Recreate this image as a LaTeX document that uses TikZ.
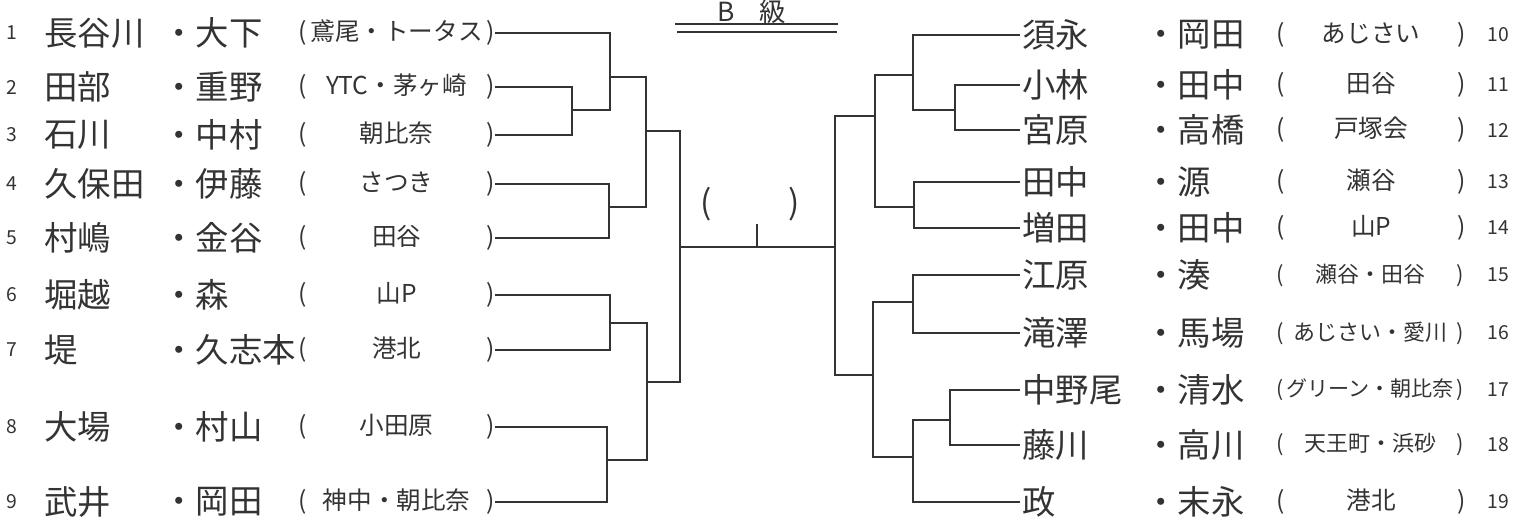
\documentclass[tikz,border=0pt]{standalone}
\usepackage{fontspec}
\setmainfont{Noto Sans CJK JP}

\begin{document}
\begin{tikzpicture}[x=0.02cm,y=-0.02cm,thick,color=black!80,
		nm/.style={anchor=west,inner sep=1pt,font=\fontsize{19}{22}\selectfont},
		af/.style={anchor=west,inner sep=0pt,font=\fontsize{14}{17}\selectfont},
		no/.style={inner sep=0pt,font=\fontsize{11}{13}\selectfont}]
				\useasboundingbox (0,0) rectangle (1526,528);
				
				% title
				\node[anchor=base,inner sep=0pt,font=\fontsize{15}{18}\selectfont] (ttl) at (752,21) {B\hspace{14pt}級};
				\draw (675,24) -- (838,24);
				\draw (677,32) -- (837,32);
				
				% left entries
				\node[no] (n1) at (12,33) {1};
				\node[nm] (a1) at (42,33) {長谷川};
				\node[nm] (b1) at (160,33) {・大下};
				\node[af] (c1) at (298,33) {(\makebox[102pt]{鳶尾・トータス})};
				\node[no] (n2) at (12,87) {2};
				\node[nm] (a2) at (42,87) {田部};
				\node[nm] (b2) at (160,87) {・重野};
				\node[af] (c2) at (298,87) {(\makebox[102pt]{YTC・茅ヶ崎})};
				\node[no] (n3) at (12,135) {3};
				\node[nm] (a3) at (42,135) {石川};
				\node[nm] (b3) at (160,135) {・中村};
				\node[af] (c3) at (298,135) {(\makebox[102pt]{朝比奈})};
				\node[no] (n4) at (12,184) {4};
				\node[nm] (a4) at (42,184) {久保田};
				\node[nm] (b4) at (160,184) {・伊藤};
				\node[af] (c4) at (298,184) {(\makebox[102pt]{さつき})};
				\node[no] (n5) at (12,238) {5};
				\node[nm] (a5) at (42,238) {村嶋};
				\node[nm] (b5) at (160,238) {・金谷};
				\node[af] (c5) at (298,238) {(\makebox[102pt]{田谷})};
				\node[no] (n6) at (12,295) {6};
				\node[nm] (a6) at (42,295) {堀越};
				\node[nm] (b6) at (160,295) {・森};
				\node[af] (c6) at (298,295) {(\makebox[102pt]{山P})};
				\node[no] (n7) at (12,350) {7};
				\node[nm] (a7) at (42,350) {堤};
				\node[nm] (b7) at (160,350) {・久志本};
				\node[af] (c7) at (298,350) {(\makebox[102pt]{港北})};
				\node[no] (n8) at (12,427) {8};
				\node[nm] (a8) at (42,427) {大場};
				\node[nm] (b8) at (160,427) {・村山};
				\node[af] (c8) at (298,427) {(\makebox[102pt]{小田原})};
				\node[no] (n9) at (12,502) {9};
				\node[nm] (a9) at (42,502) {武井};
				\node[nm] (b9) at (160,502) {・岡田};
				\node[af] (c9) at (298,502) {(\makebox[102pt]{神中・朝比奈})};
				
				% right entries
				\node[nm] (a10) at (1020,35) {須永};
				\node[nm] (b10) at (1142,35) {・岡田};
				\node[af] (c10) at (1276,35) {(\makebox[98pt]{あじさい})};
				\node[no] (n10) at (1498,35) {10};
				\node[nm] (a11) at (1020,85) {小林};
				\node[nm] (b11) at (1142,85) {・田中};
				\node[af] (c11) at (1276,85) {(\makebox[98pt]{田谷})};
				\node[no] (n11) at (1498,85) {11};
				\node[nm] (a12) at (1020,130) {宮原};
				\node[nm] (b12) at (1142,130) {・高橋};
				\node[af] (c12) at (1276,130) {(\makebox[98pt]{戸塚会})};
				\node[no] (n12) at (1498,130) {12};
				\node[nm] (a13) at (1020,182) {田中};
				\node[nm] (b13) at (1142,182) {・源};
				\node[af] (c13) at (1276,182) {(\makebox[98pt]{瀬谷})};
				\node[no] (n13) at (1498,182) {13};
				\node[nm] (a14) at (1020,228) {増田};
				\node[nm] (b14) at (1142,228) {・田中};
				\node[af] (c14) at (1276,228) {(\makebox[98pt]{山P})};
				\node[no] (n14) at (1498,228) {14};
				\node[nm] (a15) at (1020,275) {江原};
				\node[nm] (b15) at (1142,275) {・湊};
				\node[af,font=\fontsize{12.5}{15}\selectfont] (c15) at (1276,275) {(\makebox[98pt]{瀬谷・田谷})};
				\node[no] (n15) at (1498,275) {15};
				\node[nm] (a16) at (1020,333) {滝澤};
				\node[nm] (b16) at (1142,333) {・馬場};
				\node[af,font=\fontsize{12.5}{15}\selectfont] (c16) at (1276,333) {(\makebox[98pt]{あじさい・愛川})};
				\node[no] (n16) at (1498,333) {16};
				\node[nm] (a17) at (1020,390) {中野尾};
				\node[nm] (b17) at (1142,390) {・清水};
				\node[af,font=\fontsize{12}{15}\selectfont] (c17) at (1276,390) {(\makebox[98pt]{グリーン・朝比奈})};
				\node[no] (n17) at (1498,390) {17};
				\node[nm] (a18) at (1020,445) {藤川};
				\node[nm] (b18) at (1142,445) {・高川};
				\node[af,font=\fontsize{12.5}{15}\selectfont] (c18) at (1276,445) {(\makebox[98pt]{天王町・浜砂})};
				\node[no] (n18) at (1498,445) {18};
				\node[nm] (a19) at (1020,502) {政};
				\node[nm] (b19) at (1142,502) {・末永};
				\node[af] (c19) at (1276,502) {(\makebox[98pt]{港北})};
				\node[no] (n19) at (1498,502) {19};
				
				% left bracket
				\coordinate (j23) at (572,110);
				\coordinate (j1) at (610,77);
				\coordinate (j45) at (609,207);
				\coordinate (jA) at (646,131);
				\coordinate (j67) at (610,323);
				\coordinate (j89) at (607,460);
				\coordinate (jB) at (647,382);
				\coordinate (jL) at (680,247);
				\draw (c2.east) -| (j23);
				\draw (c3.east) -| (j23);
				\draw (c1.east) -| (j1);
				\draw (j23) -| (j1);
				\draw (c4.east) -| (j45);
				\draw (c5.east) -| (j45);
				\draw (j1) -| (jA);
				\draw (j45) -| (jA);
				\draw (c6.east) -| (j67);
				\draw (c7.east) -| (j67);
				\draw (c8.east) -| (j89);
				\draw (c9.east) -| (j89);
				\draw (j67) -| (jB);
				\draw (j89) -| (jB);
				\draw (jA) -| (jL);
				\draw (jB) -| (jL);
				
				% right bracket
				\coordinate (k1112) at (955,110);
				\coordinate (k10) at (913,75);
				\coordinate (k1314) at (914,207);
				\coordinate (kA) at (875,116);
				\coordinate (k1516) at (913,302);
				\coordinate (k1718) at (950,420);
				\coordinate (k19) at (913,457);
				\coordinate (kB) at (873,375);
				\coordinate (kR) at (835,247);
				\draw (a11.west) -| (k1112);
				\draw (a12.west) -| (k1112);
				\draw (a10.west) -| (k10);
				\draw (k1112) -| (k10);
				\draw (a13.west) -| (k1314);
				\draw (a14.west) -| (k1314);
				\draw (k10) -| (kA);
				\draw (k1314) -| (kA);
				\draw (a15.west) -| (k1516);
				\draw (a16.west) -| (k1516);
				\draw (a17.west) -| (k1718);
				\draw (a18.west) -| (k1718);
				\draw (k1718) -| (k19);
				\draw (a19.west) -| (k19);
				\draw (k1516) -| (kB);
				\draw (k19) -| (kB);
				\draw (kA) -| (kR);
				\draw (kB) -| (kR);
				
				% final
				\draw (jL) -- (kR);
				\node[nm,anchor=center] (win) at (750,204) {(\makebox[44pt]{})};
				\coordinate (tk) at (757,224);
				\draw (tk) -- (tk |- jL);
			\end{tikzpicture}
\end{document}
